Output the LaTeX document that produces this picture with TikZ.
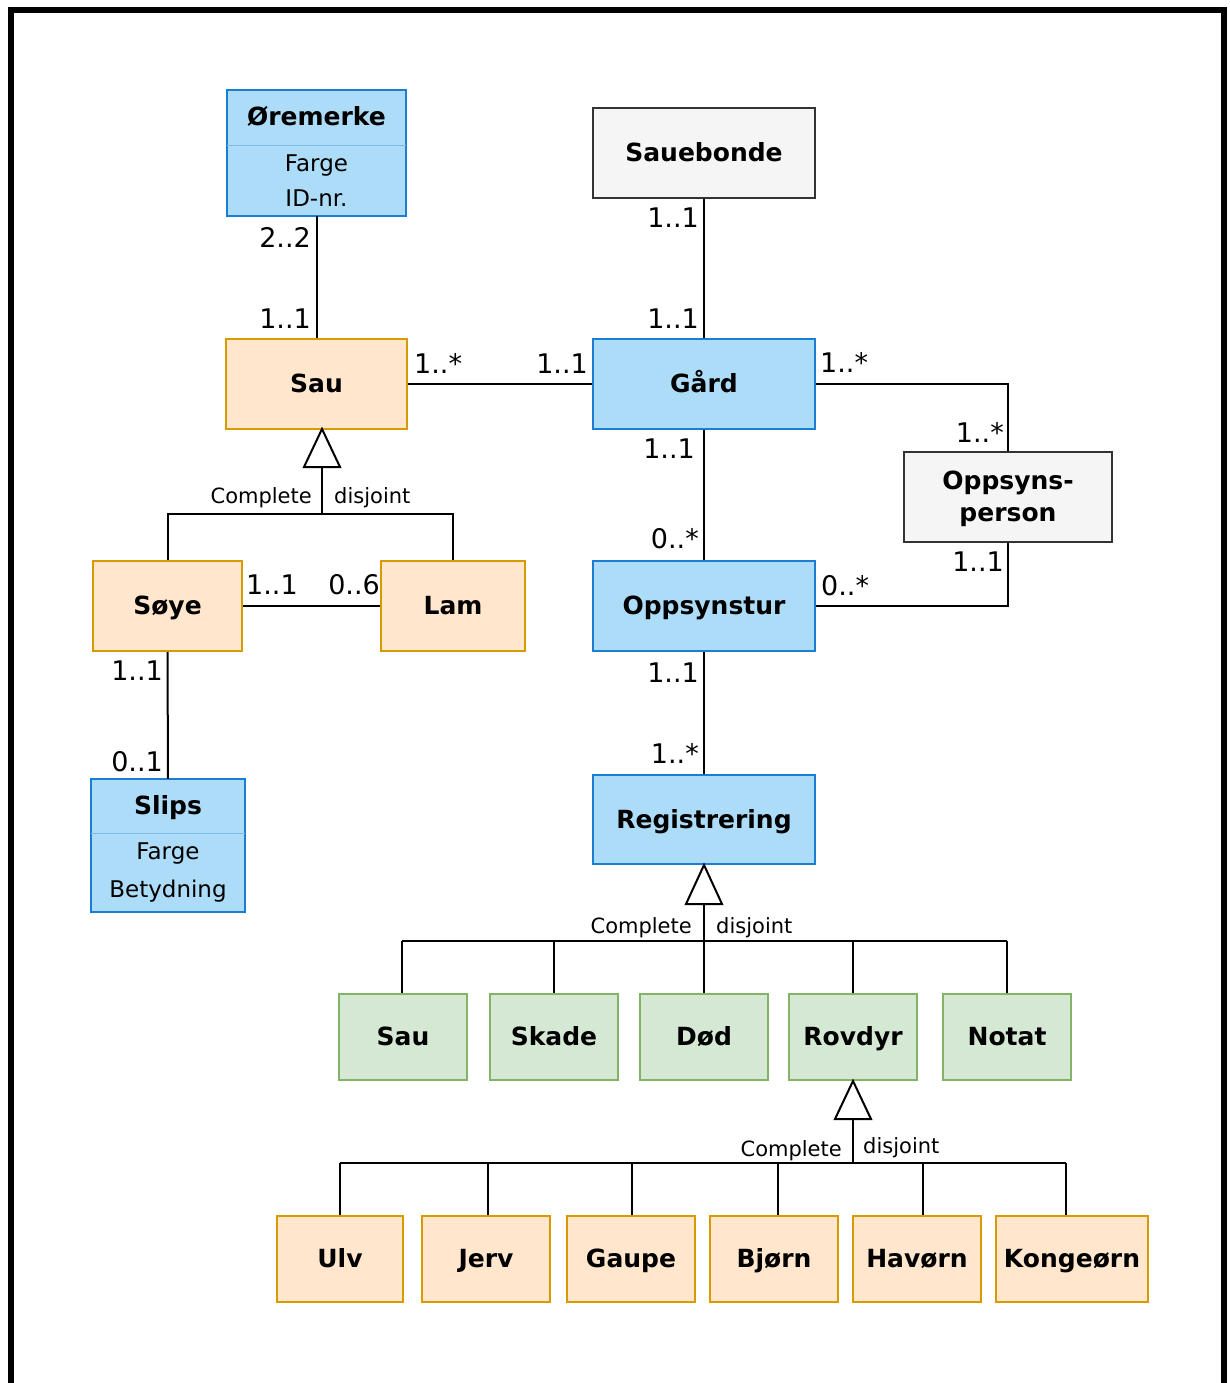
\documentclass[tikz,border=0pt]{standalone}
\usepackage{fontspec}
\setmainfont{DejaVu Sans}
\usepackage{xcolor}
\usepackage{tikz}

\definecolor{bluefill}{HTML}{ADDCF8}
\definecolor{bluedraw}{HTML}{1A7FD0}
\definecolor{orangefill}{HTML}{FFE6CC}
\definecolor{orangedraw}{HTML}{D79B00}
\definecolor{greenfill}{HTML}{D5E8D4}
\definecolor{greendraw}{HTML}{82B366}
\definecolor{grayfill}{HTML}{F5F5F5}
\definecolor{graydraw}{HTML}{333333}

\begin{document}
\begin{tikzpicture}[x=1pt,y=-1pt,
  cls/.style={draw,line width=2pt,inner sep=0pt,align=center,
    font=\fontsize{25}{32}\selectfont\bfseries,text height=20pt,text depth=3pt},
  sz/.style 2 args={minimum width=#1pt,minimum height=#2pt},
  bluecls/.style={cls,fill=bluefill,draw=bluedraw},
  orangecls/.style={cls,fill=orangefill,draw=orangedraw},
  greencls/.style={cls,fill=greenfill,draw=greendraw},
  graycls/.style={cls,fill=grayfill,draw=graydraw},
  attr/.style={fill=bluefill,inner sep=0pt,align=center},
  mult/.style={inner sep=0pt,font=\fontsize{27}{32}\selectfont},
  gen/.style={inner sep=0pt,font=\fontsize{21}{25}\selectfont},
  line/.style={line width=2pt},
  tri/.style={line width=2pt,fill=white,line join=miter}]
  \useasboundingbox (0,0) rectangle (1229,1383);
  \draw[line width=6pt] (11,1383) -- (11,10) -- (1223.5,10) -- (1223.5,1383);

  % classes with attributes
  \node[attr,sz={179}{55},font=\fontsize{25}{32}\selectfont\bfseries,text height=20pt,text depth=3pt] (ore) at (316.5,117.5) {Øremerke};
  \node[attr,sz={179}{71},font=\fontsize{23}{35}\selectfont] (oreattr) at (316.5,180.5) {Farge\\ID-nr.};
  \draw[bluedraw,line width=2pt] (ore.north west) rectangle (oreattr.south east);
  \draw[bluedraw!55,line width=1pt] (ore.south west) -- (ore.south east);

  \node[attr,sz={154}{54},font=\fontsize{25}{32}\selectfont\bfseries,text height=20pt,text depth=3pt] (slips) at (168,806) {Slips};
  \node[attr,sz={154}{79},font=\fontsize{23}{38}\selectfont] (slipsattr) at (168,872.5) {Farge\\Betydning};
  \draw[bluedraw,line width=2pt] (slips.north west) rectangle (slipsattr.south east);
  \draw[bluedraw!55,line width=1pt] (slips.south west) -- (slips.south east);

  % plain classes
  \node[orangecls,sz={181}{90}] (sau) at (316.5,384) {Sau};
  \node[graycls,sz={222}{90}] (bonde) at (704,153) {Sauebonde};
  \node[bluecls,sz={222}{90}] (gard) at (704,384) {Gård};
  \node[graycls,sz={208}{90},text height=52pt] (person) at (1008,497) {Oppsyns-\\person};
  \node[orangecls,sz={149}{90}] (soye) at (167.5,606) {Søye};
  \node[orangecls,sz={144}{90}] (lam) at (453,606) {Lam};
  \node[bluecls,sz={222}{90}] (tur) at (704,606) {Oppsynstur};
  \node[bluecls,sz={222}{89}] (reg) at (704,819.5) {Registrering};

  \node[greencls,sz={128}{86}] (rsau) at (403,1037) {Sau};
  \node[greencls,sz={128}{86}] (skade) at (554,1037) {Skade};
  \node[greencls,sz={128}{86}] (dod) at (704,1037) {Død};
  \node[greencls,sz={128}{86}] (rovdyr) at (853,1037) {Rovdyr};
  \node[greencls,sz={128}{86}] (notat) at (1007,1037) {Notat};

  \node[orangecls,sz={126}{86}] (ulv) at (340,1259) {Ulv};
  \node[orangecls,sz={128}{86}] (jerv) at (486,1259) {Jerv};
  \node[orangecls,sz={128}{86}] (gaupe) at (631,1259) {Gaupe};
  \node[orangecls,sz={128}{86}] (bjorn) at (774,1259) {Bjørn};
  \node[orangecls,sz={128}{86}] (havorn) at (917,1259) {Havørn};
  \node[orangecls,sz={152}{86}] (konge) at (1072,1259) {Kongeørn};

  % associations
  \draw[line] (oreattr.south) -- (sau.north);
  \draw[line] (bonde.south) -- (gard.north);
  \draw[line] (sau.east) -- (gard.west);
  \draw[line] (gard.east) -| (person.north);
  \draw[line] (gard.south) -- (tur.north);
  \draw[line] (tur.east) -| (person.south);
  \draw[line] (tur.south) -- (reg.north);
  \draw[line] (soye.east) -- (lam.west);
  \draw[line] (soye.south) -- (slips.north);

  \node[mult,anchor=base east] (m1) at (311,247) {2..2};
  \node[mult,anchor=base east] (m2) at (311,328) {1..1};
  \node[mult,anchor=base east] (m3) at (699,227) {1..1};
  \node[mult,anchor=base east] (m4) at (699,328) {1..1};
  \node[mult,anchor=base west] (m5) at (414,373) {1..*};
  \node[mult,anchor=base east] (m6) at (588,373) {1..1};
  \node[mult,anchor=base west] (m7) at (820,372) {1..*};
  \node[mult,anchor=base east] (m8) at (1004,442) {1..*};
  \node[mult,anchor=base east] (m9) at (695,458) {1..1};
  \node[mult,anchor=base east] (m10) at (699,548) {0..*};
  \node[mult,anchor=base west] (m11) at (821,595) {0..*};
  \node[mult,anchor=base east] (m12) at (1004,571) {1..1};
  \node[mult,anchor=base east] (m13) at (699,682) {1..1};
  \node[mult,anchor=base east] (m14) at (699,763) {1..*};
  \node[mult,anchor=base west] (m15) at (246,594) {1..1};
  \node[mult,anchor=base east] (m16) at (380,594) {0..6};
  \node[mult,anchor=base east] (m17) at (163,680) {1..1};
  \node[mult,anchor=base east] (m18) at (163,771) {0..1};

  % generalisation of Sau
  \coordinate (g1) at (322,514);
  \draw[tri] (322,429) -- ++(18,38) -- ++(-36,0) -- cycle;
  \draw[line] (322,467) -- (g1);
  \draw[line] (soye.north) |- (g1) -| (lam.north);
  \node[gen,anchor=base east] (c1) at (312,503) {Complete};
  \node[gen,anchor=base west] (d1) at (334,503) {disjoint};

  % generalisation of Registrering
  \coordinate (g2) at (704,941);
  \draw[tri] (reg.south) -- ++(18,39) -- ++(-36,0) -- cycle;
  \draw[line] (704,903) -- (dod.north);
  \draw[line] (402,941) -- (1007,941);
  \foreach \n/\xx in {rsau/402,skade/554,rovdyr/853,notat/1007}
    \draw[line] (\xx,941) -- (\n.north -| \xx,0);
  \node[gen,anchor=base east] (c2) at (692,933) {Complete};
  \node[gen,anchor=base west] (d2) at (716,933) {disjoint};

  % generalisation of Rovdyr
  \coordinate (g3) at (853,1163);
  \draw[tri] (rovdyr.south) -- ++(18,38) -- ++(-36,0) -- cycle;
  \draw[line] (853,1118) -- (g3);
  \draw[line] (340,1163) -- (1066,1163);
  \foreach \n/\xx in {ulv/340,jerv/488,gaupe/632,bjorn/778,havorn/923,konge/1066}
    \draw[line] (\xx,1163) -- (\n.north -| \xx,0);
  \node[gen,anchor=base east] (c3) at (842,1156) {Complete};
  \node[gen,anchor=base west] (d3) at (863,1153) {disjoint};
\end{tikzpicture}
\end{document}
